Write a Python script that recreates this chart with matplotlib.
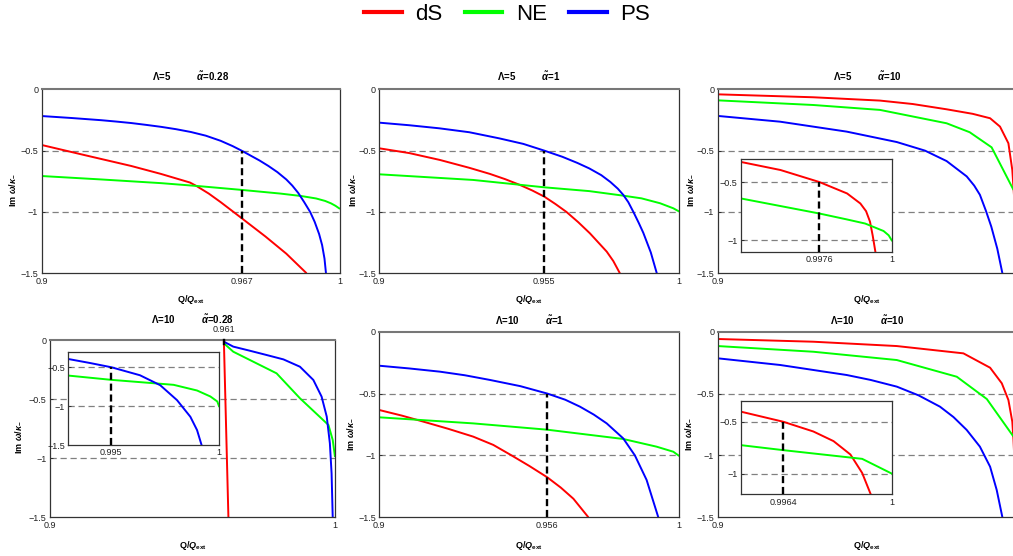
import matplotlib
matplotlib.use("Agg")
import matplotlib.pyplot as plt
from matplotlib.lines import Line2D

plt.rcParams['font.family'] = ['Liberation Sans', 'DejaVu Sans']
plt.rcParams['mathtext.fontset'] = 'custom'
plt.rcParams['mathtext.rm'] = 'Liberation Sans:bold'
plt.rcParams['mathtext.it'] = 'Liberation Sans:italic:bold'
plt.rcParams['mathtext.bf'] = 'Liberation Sans:bold'

# ---------------- data ----------------
SERIES_NAMES = ['dS', 'NE', 'PS']
LAMBDAS = ['5', '5', '5', '10', '10', '10']
ALPHAS = ['0.28', '1', '10', '0.28', '1', '10']
LEVEL = -0.5                       # Im(omega)/kappa level marked by the dashed guides
CROSS_Q = [0.967, 0.955, None, 0.961, 0.956, None]
INSET_CROSS_Q = {2: 0.9976, 3: 0.995, 5: 0.9964}

# Λ=5, α=0.28
P1_DS_Q = [0.900, 0.915, 0.930, 0.940, 0.9497, 0.952, 0.956, 0.960, 0.967, 0.975, 0.982, 0.9888]
P1_DS_Y = [-0.454, -0.54, -0.625, -0.69, -0.76, -0.79, -0.85, -0.92, -1.05, -1.20, -1.34, -1.50]
P1_NE_Q = [0.900, 0.920, 0.940, 0.953, 0.967, 0.980, 0.987, 0.992, 0.995, 0.997, 0.9985, 1.000]
P1_NE_Y = [-0.707, -0.735, -0.765, -0.79, -0.82, -0.85, -0.87, -0.89, -0.91, -0.93, -0.95, -0.975]
P1_PS_Q = [0.900, 0.905, 0.910, 0.915, 0.920, 0.925, 0.930, 0.935, 0.940, 0.945, 0.950, 0.955,
           0.960, 0.964, 0.967, 0.970, 0.973, 0.976, 0.979, 0.982, 0.984, 0.986, 0.988, 0.990,
           0.9915, 0.993, 0.994, 0.9948, 0.9953]
P1_PS_Y = [-0.218, -0.226, -0.234, -0.243, -0.252, -0.263, -0.275, -0.29, -0.306, -0.325, -0.348, -0.378,
           -0.42, -0.463, -0.50, -0.54, -0.58, -0.625, -0.675, -0.735, -0.785, -0.845, -0.92, -1.00,
           -1.08, -1.18, -1.27, -1.38, -1.50]

# Λ=5, α=1
P2_DS_Q = [0.900, 0.910, 0.9202, 0.930, 0.9369, 0.942, 0.9469, 0.951, 0.955, 0.9587, 0.9624,
           0.9663, 0.9702, 0.9758, 0.978, 0.9802]
P2_DS_Y = [-0.481, -0.52, -0.576, -0.64, -0.69, -0.733, -0.78, -0.825, -0.875, -0.935, -1.0,
           -1.083, -1.174, -1.323, -1.40, -1.5]
P2_NE_Q = [0.900, 0.9313, 0.955, 0.970, 0.9813, 0.9874, 0.9936, 0.998, 1.000]
P2_NE_Y = [-0.693, -0.739, -0.799, -0.83, -0.867, -0.889, -0.929, -0.97, -0.997]
P2_PS_Q = [0.900, 0.910, 0.920, 0.930, 0.940, 0.948, 0.955, 0.961, 0.966, 0.970, 0.974, 0.977,
           0.9795, 0.9813, 0.983, 0.9847, 0.9865, 0.988, 0.9905, 0.9925]
P2_PS_Y = [-0.272, -0.293, -0.318, -0.350, -0.40, -0.445, -0.50, -0.55, -0.60, -0.645, -0.70, -0.755,
           -0.81, -0.86, -0.92, -1.0, -1.09, -1.17, -1.33, -1.5]

# Λ=5, α=10
P3_DS_Q = [0.900, 0.9319, 0.9541, 0.965, 0.9763, 0.985, 0.9908, 0.9941, 0.9969, 0.9982, 0.9990]
P3_DS_Y = [-0.041, -0.065, -0.092, -0.12, -0.163, -0.20, -0.236, -0.304, -0.44, -0.658, -0.95]
P3_NE_Q = [0.900, 0.9319, 0.9541, 0.9763, 0.984, 0.9913, 0.9986]
P3_NE_Y = [-0.09, -0.128, -0.168, -0.277, -0.35, -0.473, -0.82]
P3_PS_Q = [0.900, 0.9208, 0.943, 0.9597, 0.9691, 0.9763, 0.983, 0.9855, 0.9874, 0.9894, 0.9912,
           0.9932, 0.9949]
P3_PS_Y = [-0.217, -0.264, -0.345, -0.43, -0.50, -0.585, -0.71, -0.785, -0.86, -0.99, -1.12,
           -1.30, -1.5]

# Λ=10, α=0.28
P4_DS_Q = [0.9610, 0.9626]
P4_DS_Y = [0.0, -1.5]
P4_NE_Q = [0.9610, 0.9643, 0.9795, 0.9877, 0.9977, 0.9992, 1.000]
P4_NE_Y = [-0.028, -0.099, -0.282, -0.493, -0.719, -0.846, -0.99]
P4_PS_Q = [0.9610, 0.9643, 0.970, 0.976, 0.9819, 0.9877, 0.9924, 0.9953, 0.9971, 0.9982, 0.9988, 0.9992]
P4_PS_Y = [-0.014, -0.056, -0.09, -0.127, -0.164, -0.226, -0.338, -0.479, -0.648, -0.874, -1.128, -1.5]

# Λ=10, α=1
P5_DS_Q = [0.900, 0.9075, 0.9147, 0.923, 0.9313, 0.938, 0.9441, 0.950, 0.956, 0.9605, 0.9647, 0.9697]
P5_DS_Y = [-0.633, -0.678, -0.727, -0.785, -0.848, -0.915, -1.0, -1.085, -1.177, -1.26, -1.35, -1.5]
P5_NE_Q = [0.900, 0.9313, 0.956, 0.9813, 0.9924, 0.998, 1.000]
P5_NE_Y = [-0.692, -0.741, -0.792, -0.867, -0.929, -0.97, -1.005]
P5_PS_Q = [0.900, 0.910, 0.9202, 0.9285, 0.9369, 0.947, 0.956, 0.962, 0.9669, 0.9715, 0.9758,
           0.9813, 0.9852, 0.9891, 0.993]
P5_PS_Y = [-0.275, -0.297, -0.323, -0.352, -0.39, -0.44, -0.5, -0.55, -0.606, -0.67, -0.741,
           -0.862, -1.0, -1.198, -1.5]

# Λ=10, α=10
P6_DS_Q = [0.900, 0.9319, 0.9597, 0.9819, 0.9908, 0.9947, 0.9969, 0.9982, 0.9986, 0.9992]
P6_DS_Y = [-0.059, -0.081, -0.116, -0.175, -0.291, -0.417, -0.552, -0.727, -0.875, -1.2]
P6_NE_Q = [0.900, 0.9319, 0.9597, 0.9797, 0.9897, 0.9986]
P6_NE_Y = [-0.116, -0.162, -0.229, -0.364, -0.544, -0.848]
P6_PS_Q = [0.900, 0.9208, 0.943, 0.951, 0.9597, 0.967, 0.9741, 0.9786, 0.983, 0.9874, 0.9908,
           0.993, 0.9949]
P6_PS_Y = [-0.215, -0.269, -0.35, -0.39, -0.444, -0.515, -0.606, -0.69, -0.794, -0.929, -1.091,
           -1.279, -1.5]

# close-ups near extremality
I3_DS_Q = [0.995, 0.99631, 0.9976, 0.99852, 0.99896, 0.99915, 0.99928, 0.99937, 0.99946]
I3_DS_Y = [-0.328, -0.397, -0.5, -0.598, -0.684, -0.75, -0.84, -0.96, -1.10]
I3_NE_Q = [0.995, 0.9976, 0.9985, 0.99912, 0.99973, 0.9999, 1.0]
I3_NE_Y = [-0.641, -0.770, -0.82, -0.856, -0.920, -0.957, -1.0]

I4_NE_Q = [0.993, 0.995, 0.99789, 0.99898, 0.9996, 0.99992, 1.0]
I4_NE_Y = [-0.607, -0.662, -0.726, -0.799, -0.876, -0.94, -1.0]
I4_PS_Q = [0.993, 0.994, 0.995, 0.99633, 0.99727, 0.99805, 0.99867, 0.99898, 0.99919]
I4_PS_Y = [-0.394, -0.445, -0.5, -0.603, -0.731, -0.923, -1.137, -1.308, -1.5]

I6_DS_Q = [0.995, 0.9964, 0.9974, 0.99807, 0.99863, 0.99902, 0.9993]
I6_DS_Y = [-0.403, -0.5, -0.594, -0.687, -0.816, -0.994, -1.197]
I6_NE_Q = [0.995, 0.9964, 0.99902, 1.0]
I6_NE_Y = [-0.726, -0.774, -0.858, -1.0]

# ---------------- styling ----------------
COLORS = {'dS': '#ff0000', 'NE': '#00ff00', 'PS': '#0000ff'}
W, H = 1013, 556
LW = 1.4
GRID_DASH = (0, (5, 3))
GUIDE_DASH = (0, (3, 1.6))
TICK_FS = 6.5
MINUS = '\u2212'


def fmt(v):
    s = ('%g' % v)
    return s.replace('-', MINUS)


def box(l, t, r, b):
    return [l / W, 1 - b / H, (r - l) / W, (b - t) / H]


def style_axes(ax, xlim, ylim, xticks, yticks, xlabels=None):
    ax.set_xlim(*xlim)
    ax.set_ylim(*ylim)
    ax.set_xticks(xticks)
    ax.set_xticklabels(xlabels if xlabels is not None else [fmt(v) for v in xticks])
    ax.set_yticks(yticks)
    ax.set_yticklabels([fmt(v) for v in yticks])
    ax.tick_params(direction='in', length=2.5, width=0.6, labelsize=TICK_FS,
                   pad=2.5, colors='#222222')
    for side in ['left', 'bottom', 'right']:
        ax.spines[side].set_color('#333333')
        ax.spines[side].set_linewidth(0.9)
    ax.spines['top'].set_color('#777777')
    ax.spines['top'].set_linewidth(1.5)
    ax.set_facecolor('white')


def draw_levels(ax):
    for lv in (-0.5, -1.0):
        ax.axhline(lv, color='#808080', lw=0.9, ls=GRID_DASH, zorder=1)


def draw_guide(ax, q, bottom):
    ax.plot([q, q], [bottom, LEVEL], color='black', lw=1.7, ls=GUIDE_DASH, zorder=3)


fig = plt.figure(figsize=(W / 100, H / 100), dpi=100)

main_boxes = [
    box(41.7, 89.3, 340.0, 273.3),
    box(379.3, 89.3, 679.3, 273.3),
    box(717.7, 89.3, 1017.7, 273.3),
    box(50.0, 340.0, 335.0, 517.3),
    box(379.3, 331.7, 679.3, 517.3),
    box(717.7, 331.7, 1017.7, 517.3),
]

panel_series = [
    [(P1_DS_Q, P1_DS_Y, 'dS'), (P1_NE_Q, P1_NE_Y, 'NE'), (P1_PS_Q, P1_PS_Y, 'PS')],
    [(P2_DS_Q, P2_DS_Y, 'dS'), (P2_NE_Q, P2_NE_Y, 'NE'), (P2_PS_Q, P2_PS_Y, 'PS')],
    [(P3_DS_Q, P3_DS_Y, 'dS'), (P3_NE_Q, P3_NE_Y, 'NE'), (P3_PS_Q, P3_PS_Y, 'PS')],
    [(P4_DS_Q, P4_DS_Y, 'dS'), (P4_NE_Q, P4_NE_Y, 'NE'), (P4_PS_Q, P4_PS_Y, 'PS')],
    [(P5_DS_Q, P5_DS_Y, 'dS'), (P5_NE_Q, P5_NE_Y, 'NE'), (P5_PS_Q, P5_PS_Y, 'PS')],
    [(P6_DS_Q, P6_DS_Y, 'dS'), (P6_NE_Q, P6_NE_Y, 'NE'), (P6_PS_Q, P6_PS_Y, 'PS')],
]

# title centre (x, y) and y-label x in pixels
title_pos = [(191, 76), (529, 76), (867, 76), (192, 319), (529, 320), (867, 320)]
ylabel_x = [12, 352, 690, 18, 350, 688]
xlabel_y = [299, 299, 299, 545, 545, 545]

axes = []
for i, rect in enumerate(main_boxes):
    ax = fig.add_axes(rect)
    axes.append(ax)
    if CROSS_Q[i] is None or i == 3:
        xt = [0.9, 1.0]
    else:
        xt = [0.9, CROSS_Q[i], 1.0]
    xl = [fmt(v) for v in xt]
    if i % 3 == 2:
        xl[-1] = ''          # right-hand column runs past the figure edge
    style_axes(ax, (0.9, 1.0), (-1.5, 0.0), xt, [0, -0.5, -1, -1.5], xl)
    draw_levels(ax)
    for q, y, name in panel_series[i]:
        ax.plot(q, y, color=COLORS[name], lw=LW, zorder=2, solid_capstyle='butt')
    if CROSS_Q[i] is not None and i != 3:
        draw_guide(ax, CROSS_Q[i], -1.5)

    l, b, w, h = rect
    cx = (l + w / 2)
    fig.text(title_pos[i][0] / W, 1 - title_pos[i][1] / H,
             'Λ=' + LAMBDAS[i] + ' ' * 10 + r'$\tilde{\alpha}$=' + ALPHAS[i],
             ha='center', va='center', fontsize=7, fontweight='bold')
    fig.text(ylabel_x[i] / W, b + h * 0.45, r'Im $\omega/\kappa_{-}$',
             rotation=90, ha='center', va='center', fontsize=6.5, fontweight='bold')
    fig.text(cx if i % 3 != 2 else 867 / W, 1 - xlabel_y[i] / H, r'Q/$Q_{\mathrm{ext}}$',
             ha='center', va='center', fontsize=6.5, fontweight='bold')

# the dS branch of Λ=10, α=0.28 leaves the axis at Q = 0.961
ax4 = axes[3]
ax4.plot([CROSS_Q[3], CROSS_Q[3]], [0.0, -0.03], color='black', lw=1.7, zorder=3, clip_on=False)
ax4.annotate(fmt(CROSS_Q[3]), xy=(CROSS_Q[3], 0.0), xytext=(0, 4), textcoords='offset points',
             ha='center', va='bottom', fontsize=TICK_FS, color='#222222', annotation_clip=False)

# ---------------- insets ----------------
inset_specs = [
    (2, box(741.0, 158.7, 891.7, 252.0), (0.995, 1.0), (-1.1, -0.3), [-0.5, -1],
     [(I3_DS_Q, I3_DS_Y, 'dS'), (I3_NE_Q, I3_NE_Y, 'NE')]),
    (3, box(68.3, 351.7, 219.0, 445.0), (0.993, 1.0), (-1.5, -0.3), [-0.5, -1, -1.5],
     [(I4_NE_Q, I4_NE_Y, 'NE'), (I4_PS_Q, I4_PS_Y, 'PS')]),
    (5, box(741.0, 401.0, 891.7, 494.3), (0.995, 1.0), (-1.2, -0.3), [-0.5, -1],
     [(I6_DS_Q, I6_DS_Y, 'dS'), (I6_NE_Q, I6_NE_Y, 'NE')]),
]

for idx, rect, xlim, ylim, yt, series in inset_specs:
    ia = fig.add_axes(rect)
    qc = INSET_CROSS_Q[idx]
    style_axes(ia, xlim, ylim, [qc, 1.0], yt)
    ia.spines['top'].set_color('#333333')
    ia.spines['top'].set_linewidth(0.9)
    draw_levels(ia)
    for q, y, name in series:
        ia.plot(q, y, color=COLORS[name], lw=LW, zorder=2)
    draw_guide(ia, qc, ylim[0])

# ---------------- legend ----------------
handles = [Line2D([], [], color=COLORS[n], lw=3) for n in SERIES_NAMES]
fig.legend(handles, SERIES_NAMES, loc='center', bbox_to_anchor=(507 / W, 1 - 14 / H),
           ncol=3, frameon=False, fontsize=16, handlelength=1.7, handletextpad=0.6,
           columnspacing=1.0, borderpad=0)

fig.savefig('out.png', dpi=100)
